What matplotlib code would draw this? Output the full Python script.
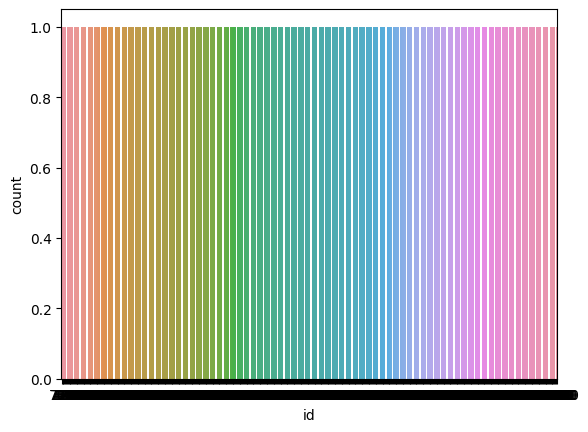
import matplotlib
matplotlib.use("Agg")
import matplotlib.pyplot as plt
import seaborn as sns
import numpy as np

# 569 unique ids, each counted once (individual labels are illegible in the reference,
# they merge into one black band running from a short "7.." id to 5-digit ids)
ids = ([str(v) for v in range(705, 1000, 5)]
       + [str(v) for v in range(1005, 10000, 30)]
       + [str(v) for v in range(10000, 94000, 400)])
ids = ids[:569]
counts = [1] * len(ids)

n_ids = len(ids)
pal = sns.husl_palette(n_ids, l=.7)
pal = [sns.desaturate(c, 0.75) for c in pal]

fig, ax = plt.subplots(figsize=(6.4, 4.8), dpi=100)
x = np.arange(n_ids)
ax.bar(x, counts, width=0.8, color=pal)
ax.set_xticks(x)
ax.set_xticklabels(ids)
ax.set_xlim(-0.5, n_ids - 0.5)
ax.set_xlabel("id")
ax.set_ylabel("count")
fig.savefig("out.png", dpi=100, bbox_inches="tight")
